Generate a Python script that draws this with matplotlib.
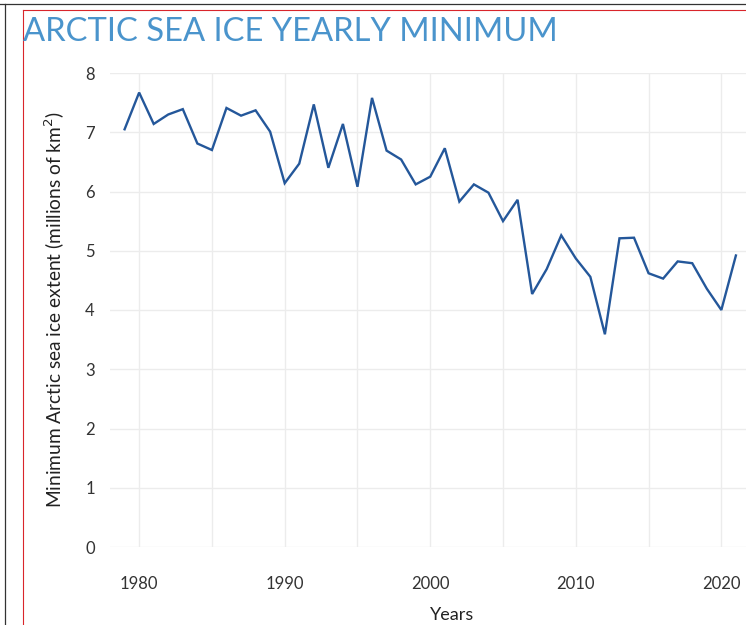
import matplotlib
matplotlib.use("Agg")
import matplotlib.pyplot as plt
from matplotlib.lines import Line2D

years = list(range(1979, 2022))
extent = [7.05, 7.67, 7.14, 7.30, 7.39, 6.81, 6.70, 7.41, 7.28, 7.37,
          7.01, 6.14, 6.47, 7.47, 6.40, 7.14, 6.08, 7.58, 6.69, 6.54,
          6.12, 6.25, 6.73, 5.83, 6.12, 5.98, 5.50, 5.86, 4.27, 4.69,
          5.26, 4.87, 4.56, 3.59, 5.21, 5.22, 4.62, 4.53, 4.82, 4.79,
          4.36, 4.00, 4.92]
xticks = [1980, 1990, 2000, 2010, 2020]
yticks = list(range(0, 9))

plt.rcParams['font.family'] = ['Lato', 'DejaVu Sans']

fig = plt.figure(figsize=(7.46, 6.25), dpi=100)
ax = fig.add_axes([0.1475, 0.1248, 0.917, 0.7584])

ax.plot(years, extent, color='#24579a', lw=1.7, solid_joinstyle='miter')
ax.set_xlim(1978, 2025)
ax.set_ylim(0, 8)
ax.set_xticks(xticks)
ax.set_xticks(range(1985, 2025, 10), minor=True)
ax.set_yticks(yticks)
ax.grid(True, which='both', color='#ececec', lw=1)
ax.set_axisbelow(True)
for s in ax.spines.values():
    s.set_visible(False)
ax.tick_params(which='both', length=0, labelsize=12, labelcolor='#333333')
ax.tick_params(axis='x', pad=21)
ax.tick_params(axis='y', pad=11)

ax.set_xlabel('Years', fontsize=13, color='#222222', labelpad=11)
ax.set_ylabel('Minimum Arctic sea ice extent (millions of km$^2$)',
              fontsize=13.8, color='#222222', labelpad=13)

fig.text(0.031, 0.935, 'ARCTIC SEA ICE YEARLY MINIMUM', fontsize=23.6,
         color='#4a94cc', ha='left', va='baseline')

# frame lines seen in the screenshot
fig.add_artist(Line2D([0, 1], [1 - 4 / 625, 1 - 4 / 625], color='#333333', lw=0.9))
fig.add_artist(Line2D([5 / 746, 5 / 746], [0, 1 - 4 / 625], color='#333333', lw=0.9))
fig.add_artist(Line2D([23 / 746, 1], [1 - 10 / 625, 1 - 10 / 625], color='#d9252b', lw=0.8))
fig.add_artist(Line2D([23 / 746, 23 / 746], [0, 1 - 10 / 625], color='#d9252b', lw=0.8))

fig.savefig('out.png', dpi=100)
